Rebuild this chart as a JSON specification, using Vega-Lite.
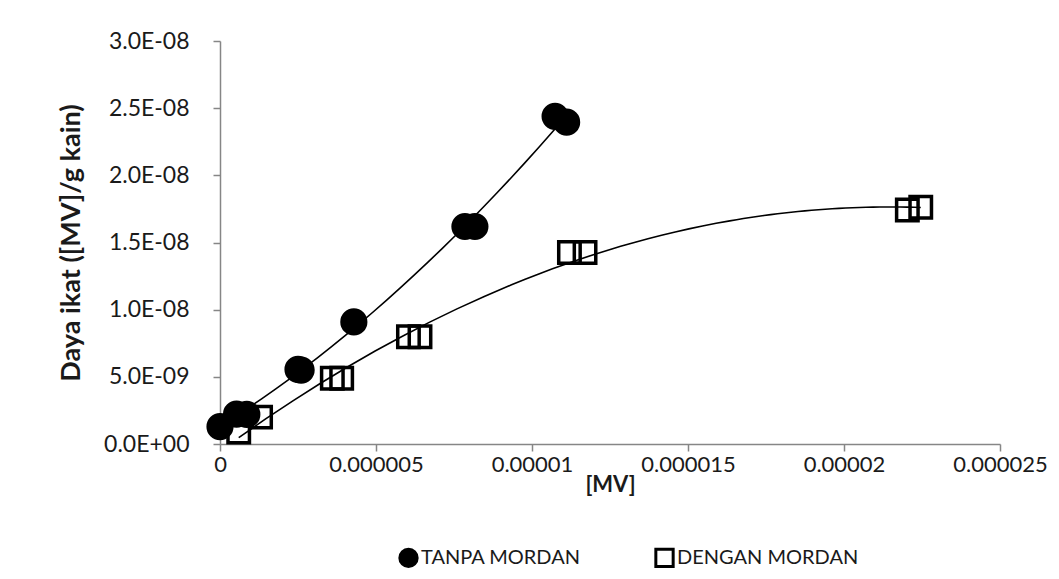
{
  "$schema": "https://vega.github.io/schema/vega-lite/v6.json",
  "width": 780,
  "height": 403,
  "autosize": {"type": "none"},
  "padding": {"left": 220, "top": 41, "right": 59, "bottom": 135},
  "background": "white",
  "config": {
    "font": "Lato",
    "view": {"stroke": null},
    "axis": {"grid": false, "domainColor": "#868686", "domainWidth": 1.5, "tickColor": "#868686", "tickWidth": 1.5, "tickSize": 7, "labelColor": "#1a1a1a", "labelFont": "Lato", "labelFontSize": 23, "titleFont": "Lato", "titleFontWeight": "bold", "titleColor": "#1a1a1a"}
  },
  "data": {
    "values": [
      {"x": 0.0000006, "y": 9.0e-10, "series": "DENGAN MORDAN"},
      {"x": 0.0000013, "y": 2.0e-9, "series": "DENGAN MORDAN"},
      {"x": 0.0000036, "y": 4.9e-9, "series": "DENGAN MORDAN"},
      {"x": 0.0000039, "y": 4.9e-9, "series": "DENGAN MORDAN"},
      {"x": 0.00000604, "y": 7.98e-9, "series": "DENGAN MORDAN"},
      {"x": 0.00000641, "y": 7.98e-9, "series": "DENGAN MORDAN"},
      {"x": 0.0000112, "y": 1.425e-8, "series": "DENGAN MORDAN"},
      {"x": 0.0000117, "y": 1.425e-8, "series": "DENGAN MORDAN"},
      {"x": 0.00002203, "y": 1.742e-8, "series": "DENGAN MORDAN"},
      {"x": 0.00002246, "y": 1.762e-8, "series": "DENGAN MORDAN"},
      {"x": 0.0, "y": 1.29e-9, "series": "TANPA MORDAN"},
      {"x": 0.00000053, "y": 2.23e-9, "series": "TANPA MORDAN"},
      {"x": 0.00000086, "y": 2.2e-9, "series": "TANPA MORDAN"},
      {"x": 0.0000025, "y": 5.55e-9, "series": "TANPA MORDAN"},
      {"x": 0.0000026, "y": 5.5e-9, "series": "TANPA MORDAN"},
      {"x": 0.00000429, "y": 9.09e-9, "series": "TANPA MORDAN"},
      {"x": 0.00000785, "y": 1.619e-8, "series": "TANPA MORDAN"},
      {"x": 0.00000817, "y": 1.619e-8, "series": "TANPA MORDAN"},
      {"x": 0.00001074, "y": 2.439e-8, "series": "TANPA MORDAN"},
      {"x": 0.00001111, "y": 2.396e-8, "series": "TANPA MORDAN"}
    ]
  },
  "encoding": {
    "x": {
      "field": "x", "type": "quantitative", "title": "[MV]",
      "scale": {"domain": [0, 0.000025], "nice": false, "zero": true},
      "axis": {"values": [0, 0.000005, 0.00001, 0.000015, 0.00002, 0.000025], "format": ".6~f", "labelFlush": false, "labelOverlap": false, "labelFontSize": 22, "labelPadding": 3, "titlePadding": -1, "titleFontSize": 22}
    },
    "y": {
      "field": "y", "type": "quantitative", "title": "Daya ikat ([MV]/g kain)",
      "scale": {"domain": [0, 3e-8], "nice": false},
      "axis": {"values": [0, 5e-9, 1e-8, 1.5e-8, 2e-8, 2.5e-8, 3e-8], "labelExpr": "replace(replace(format(datum.value, '.1e'), 'e-', 'E-0'), 'e+', 'E+0')", "labelPadding": 24, "titlePadding": 18, "titleFontSize": 27}
    }
  },
  "layer": [
    {
      "transform": [
        {"regression": "y", "on": "x", "groupby": ["series"], "method": "poly", "order": 2}
      ],
      "mark": {"type": "line", "color": "black", "strokeWidth": 1.6},
      "encoding": {"detail": {"field": "series", "type": "nominal"}}
    },
    {
      "mark": {"type": "point", "filled": false, "strokeWidth": 3.5, "opacity": 1},
      "encoding": {
        "shape": {
          "field": "series", "type": "nominal",
          "scale": {"domain": ["TANPA MORDAN", "DENGAN MORDAN"], "range": ["circle", "square"]},
          "legend": {"title": null, "orient": "none", "legendX": 178, "legendY": 506, "direction": "horizontal", "columns": 2, "columnPadding": 68, "labelFontSize": 20, "labelFont": "Lato", "labelColor": "#1a1a1a", "labelLimit": 400, "symbolSize": 300, "symbolStrokeWidth": 3, "labelOffset": 2}
        },
        "fill": {
          "field": "series", "type": "nominal",
          "scale": {"domain": ["TANPA MORDAN", "DENGAN MORDAN"], "range": ["black", "transparent"]},
          "legend": {"title": null, "orient": "none", "legendX": 178, "legendY": 506, "direction": "horizontal", "columns": 2, "columnPadding": 68, "labelFontSize": 20, "labelFont": "Lato", "labelColor": "#1a1a1a", "labelLimit": 400, "symbolSize": 300, "symbolStrokeWidth": 3, "labelOffset": 2}
        },
        "stroke": {
          "field": "series", "type": "nominal",
          "scale": {"domain": ["TANPA MORDAN", "DENGAN MORDAN"], "range": ["black", "black"]},
          "legend": {"title": null, "orient": "none", "legendX": 178, "legendY": 506, "direction": "horizontal", "columns": 2, "columnPadding": 68, "labelFontSize": 20, "labelFont": "Lato", "labelColor": "#1a1a1a", "labelLimit": 400, "symbolSize": 300, "symbolStrokeWidth": 3, "labelOffset": 2}
        },
        "size": {"condition": {"test": "datum.series === 'TANPA MORDAN'", "value": 560}, "value": 460}
      }
    }
  ]
}
